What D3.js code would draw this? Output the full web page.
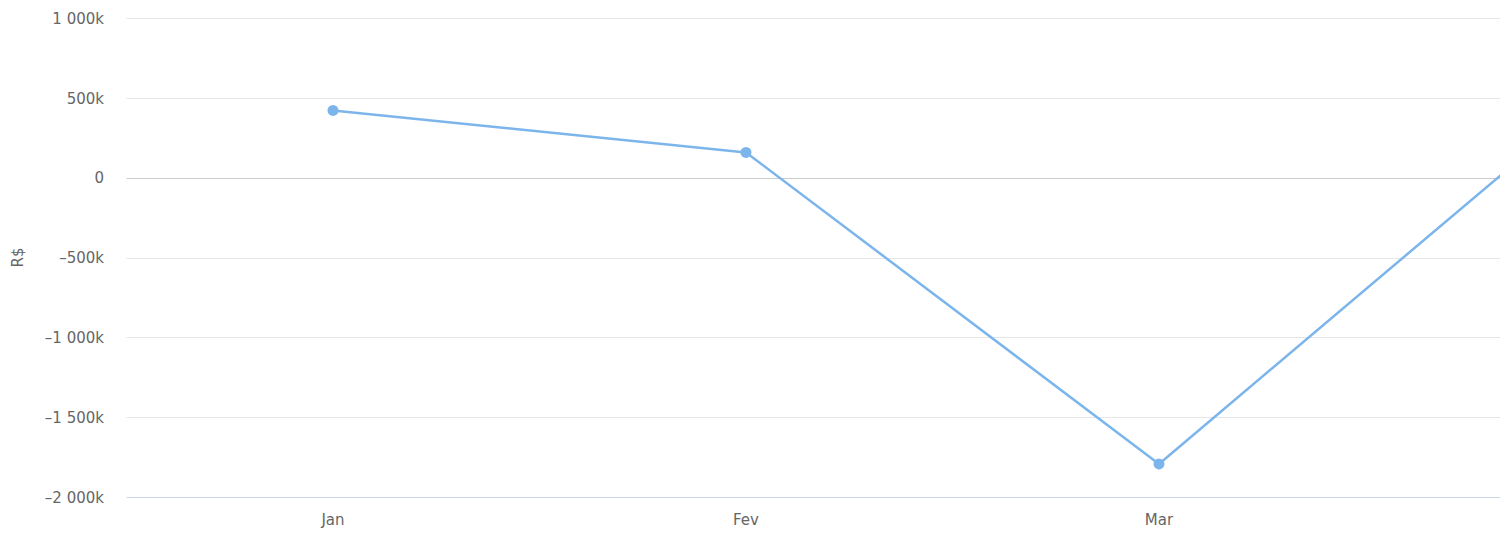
<!DOCTYPE html>
<html>
<head>
<meta charset="utf-8">
<script src="https://cdn.jsdelivr.net/npm/d3@7"></script>
<style>
html,body{margin:0;padding:0;background:#fff;overflow:hidden;}
svg{display:block;}
text{font-family:"DejaVu Sans",sans-serif;fill:#666666;}
</style>
</head>
<body>
<svg id="chart" width="1506" height="536"></svg>
<script>
const categories = ["Jan", "Fev", "Mar", "Abr"];
const values = [421000, 158000, -1793000, 393000];
const yTicks = [1000000, 500000, 0, -500000, -1000000, -1500000, -2000000];
const yTitle = "R$";

(function () {
const W = 1506, H = 536;
const plotLeft = 126.5, plotRight = 1500, plotTop = 18, plotBottom = 497;
const catW = 413;
const svg = d3.select("#chart");

const x = d3.scaleBand().domain(categories).range([plotLeft, plotLeft + catW * categories.length]);
const y = d3.scaleLinear().domain([-2000000, 1000000]).range([plotBottom, plotTop]);

svg.append("defs").append("clipPath").attr("id", "plotclip")
  .append("rect").attr("x", plotLeft).attr("y", 0).attr("width", plotRight - plotLeft).attr("height", H);

const fmt = v => {
  const k = Math.abs(v) / 1000;
  const s = k === 0 ? "0" : String(k).replace(/\B(?=(\d{3})+(?!\d))/g, " ") + "k";
  return (v < 0 ? "\u2013" : "") + s;
};

const grid = svg.append("g");
yTicks.forEach(t => {
  grid.append("line")
    .attr("x1", plotLeft).attr("x2", plotRight)
    .attr("y1", Math.round(y(t)) + 0.5).attr("y2", Math.round(y(t)) + 0.5)
    .attr("stroke", t === 0 ? "#cccccc" : (t === -2000000 ? "#ccd6eb" : "#e6e6e6"))
    .attr("stroke-width", 1);
});

const yAxis = d3.axisLeft(y).tickValues(yTicks).tickFormat(fmt).tickSize(0).tickPadding(0);
const ya = svg.append("g").attr("transform", "translate(104,0)").call(yAxis);
ya.select(".domain").remove();
ya.selectAll("text").attr("font-size", "15px").attr("fill", "#666666")
  .attr("font-family", "DejaVu Sans, sans-serif").attr("dy", "0.35em");

svg.append("text")
  .attr("transform", `translate(23,${(plotTop + plotBottom) / 2}) rotate(-90)`)
  .attr("text-anchor", "middle")
  .attr("font-size", "15px")
  .text(yTitle);

const visibleCats = categories.filter(c => x(c) + x.bandwidth() / 2 < plotRight);
const xAxis = d3.axisBottom(x).tickValues(visibleCats).tickSize(0).tickPadding(0);
const xa = svg.append("g").attr("transform", `translate(0,${plotBottom})`).call(xAxis);
xa.select(".domain").remove();
xa.selectAll("text").attr("font-size", "15px").attr("fill", "#666666")
  .attr("font-family", "DejaVu Sans, sans-serif").attr("dy", null).attr("y", 28);

const data = categories.map((c, i) => ({c, v: values[i]}));
const plot = svg.append("g").attr("clip-path", "url(#plotclip)");
plot.append("path")
  .datum(data)
  .attr("fill", "none")
  .attr("stroke", "#7cb5ec")
  .attr("stroke-width", 2.5)
  .attr("stroke-linejoin", "round")
  .attr("d", d3.line().x(d => x(d.c) + x.bandwidth() / 2).y(d => y(d.v)));
plot.selectAll("circle").data(data).join("circle")
  .attr("cx", d => x(d.c) + x.bandwidth() / 2)
  .attr("cy", d => y(d.v))
  .attr("r", 5.5)
  .attr("fill", "#7cb5ec");
})();
</script>
</body>
</html>
